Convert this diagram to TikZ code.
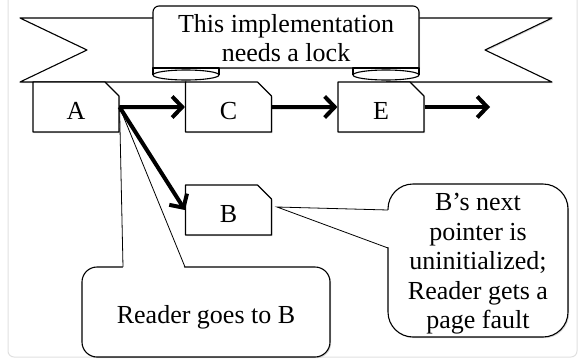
\documentclass[tikz,border=0pt]{standalone}
\usepackage{fontspec}
\setmainfont{Liberation Serif}
\usetikzlibrary{arrows.meta,shapes.misc,shadows}

\begin{document}
\begin{tikzpicture}[x=1pt,y=-1pt,font=\fontsize{26}{29.5}\selectfont]
    \tikzstyle{paper}=[fill=white,draw=black,line width=1.1pt,line join=round]
    \tikzstyle{shade}=[drop shadow={opacity=0.3,shadow xshift=1.2pt,shadow yshift=-1.2pt}]
    \tikzstyle{cell}=[paper,shade,chamfered rectangle,chamfered rectangle corners=north east,
      chamfered rectangle xsep=7pt,chamfered rectangle ysep=7pt,inner sep=0pt,
      minimum width=86pt,minimum height=50pt,text height=24pt,text depth=0pt]
    \tikzstyle{bubble}=[paper,shade,align=center,inner sep=0pt]
    \tikzstyle{link}=[line width=4pt,-{Straight Barb[length=10pt,width=21pt]}]
    \useasboundingbox (0,0) rectangle (581,362);
    \draw[black!12,line width=1pt,rounded corners=6pt] (8,-20) rectangle (577,357);

    % callouts
    \node[bubble,rounded corners=15pt,minimum width=248pt,minimum height=90pt,
      text height=22pt,text depth=0pt] at (206,312) (goes) {Reader goes to B};
    \node[bubble,rounded corners=25pt,minimum width=180pt,minimum height=153pt]
      at (478,260.5) (fault)
      {\rule{0pt}{24pt}B’s next\\pointer is\\uninitialized;\\Reader gets a\\page fault};

    % ribbon tails, banner and rolls
    \filldraw[paper,shade] (170,18) -- (20,18) -- (87,50) -- (20,82) -- (186,82);
    \filldraw[paper,shade] (400,18) -- (552,18) -- (485,50) -- (552,82) -- (386,82);
    \filldraw[paper,shade] (153,68) [rounded corners=6pt] -- (153,6) -- (419,6)
      [sharp corners] -- (419,68) -- cycle;
    \foreach \x in {186,386} {
      \filldraw[paper] (\x-33,75) -- (\x-33,68) -- (\x+33,68) -- (\x+33,75);
      \filldraw[paper] (\x,75) ellipse [x radius=33,y radius=5];
    }
    \node[align=center] at (286,38) (lock) {This implementation\\needs a lock};

    % list cells
    \foreach \n/\x in {A/76,C/228.5,E/381} {\node[cell] at (\x,107) (\n) {\n};}
    \node[cell] at (228.5,210) (B) {B};

    % callout pointers
    \coordinate (g1) at (123,267);
    \coordinate (g2) at (185,267);
    \fill[white] (123,269.5) -- (A.east) -- (185,269.5) -- cycle;
    \draw[line width=0.8pt] (g1) -- (A.east) -- (g2);
    \coordinate (tipB) at (277,207);
    \coordinate (f1) at (388,210);
    \coordinate (f2) at (388,248);
    \fill[white] (390.5,210) -- (tipB) -- (390.5,248) -- cycle;
    \draw[line width=0.8pt] (f1) -- (tipB) -- (f2);

    % next pointers
    \coordinate (end) at (490,107);
    \foreach \i/\j in {A/C,C/E,E/end} {\draw (\i.east) edge[link] (\j);}
    \draw (A.east) edge[link] (B.west);
\end{tikzpicture}
\end{document}
